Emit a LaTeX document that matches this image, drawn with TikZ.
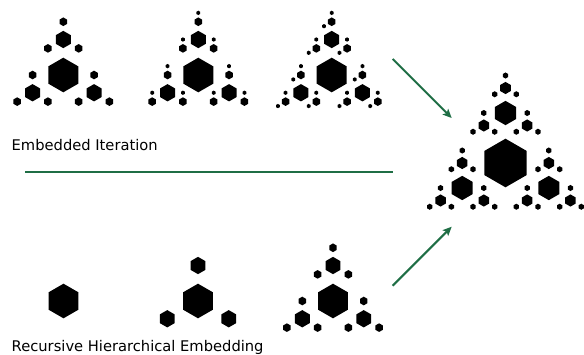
\documentclass[tikz,border=0pt]{standalone}
\usepackage{fontspec}
\setmainfont{DejaVu Sans}
\usetikzlibrary{arrows.meta}
\definecolor{arrowgreen}{HTML}{1F6E45}
\tikzset{
  hexfill/.style={fill=black},
  conn/.style={draw=arrowgreen, line width=2pt},
  arr/.style={conn, -{Stealth[length=9pt,width=8pt,inset=2pt]}},
  lbl/.style={anchor=base west, inner sep=0pt, font=\fontsize{14.7}{17}\selectfont}
}
% pointy-top hexagon at (x,y) with circumradius r
\newcommand*\hexat[3]{\fill[hexfill] (#1,#2) +(90:#3) -- +(150:#3) -- +(210:#3) -- +(270:#3) -- +(330:#3) -- +(30:#3) -- cycle;}
% x y r d n m : hexagon, children at distance d; n levels below; last level only first m directions
\newcommand*\hexfrac[6]{%
  \hexat{#1}{#2}{#3}%
  \ifnum#5>0
    \foreach \a/\k in {90/1,210/2,330/3}{%
      \pgfmathsetmacro\nx{#1+#4*cos(\a)}%
      \pgfmathsetmacro\ny{#2-#4*sin(\a)}%
      \pgfmathsetmacro\nr{#3/2}%
      \pgfmathsetmacro\nd{#4/2}%
      \ifnum#5>1 \def\ok{1}\else\ifnum\k>#6 \def\ok{0}\else\def\ok{1}\fi\fi
      \ifnum\ok=1
        \edef\next{\noexpand\hexfrac{\nx}{\ny}{\nr}{\nd}{\the\numexpr#5-1\relax}{#6}}%
        \next
      \fi
    }%
  \fi}
\begin{document}
\begin{tikzpicture}[x=1pt,y=-1pt]
\useasboundingbox (0,0) rectangle (584,354);
% Embedded iteration (top row)
\hexfrac{63.3}{75}{17.3}{35.5}{2}{3}
\hexfrac{198.3}{75}{17.3}{35.5}{3}{1}
\hexfrac{331.7}{75}{17.3}{35.5}{3}{2}
% Recursive hierarchical embedding (bottom row)
\hexfrac{63.5}{301}{17.3}{35.5}{0}{3}
\hexfrac{198}{301}{17.3}{35.5}{1}{3}
\hexfrac{333}{301}{17.3}{35.5}{2}{3}
% result
\hexfrac{505.5}{163}{24.3}{50}{3}{3}
% labels
\node[lbl] (lblA) at (11.5,150) {Embedded Iteration};
\node[lbl] (lblB) at (11.5,351) {Recursive Hierarchical Embedding};
% connectors
\coordinate (sepL) at (25,172);
\coordinate (sepR) at (392.5,172);
\coordinate (aTs) at (392.7,59);
\coordinate (aTe) at (451.7,118);
\coordinate (aBs) at (392.7,285.7);
\coordinate (aBe) at (451.7,226.7);
\draw[conn] (sepL) -- (sepR);
\draw[arr] (aTs) -- (aTe);
\draw[arr] (aBs) -- (aBe);
\end{tikzpicture}
\end{document}
